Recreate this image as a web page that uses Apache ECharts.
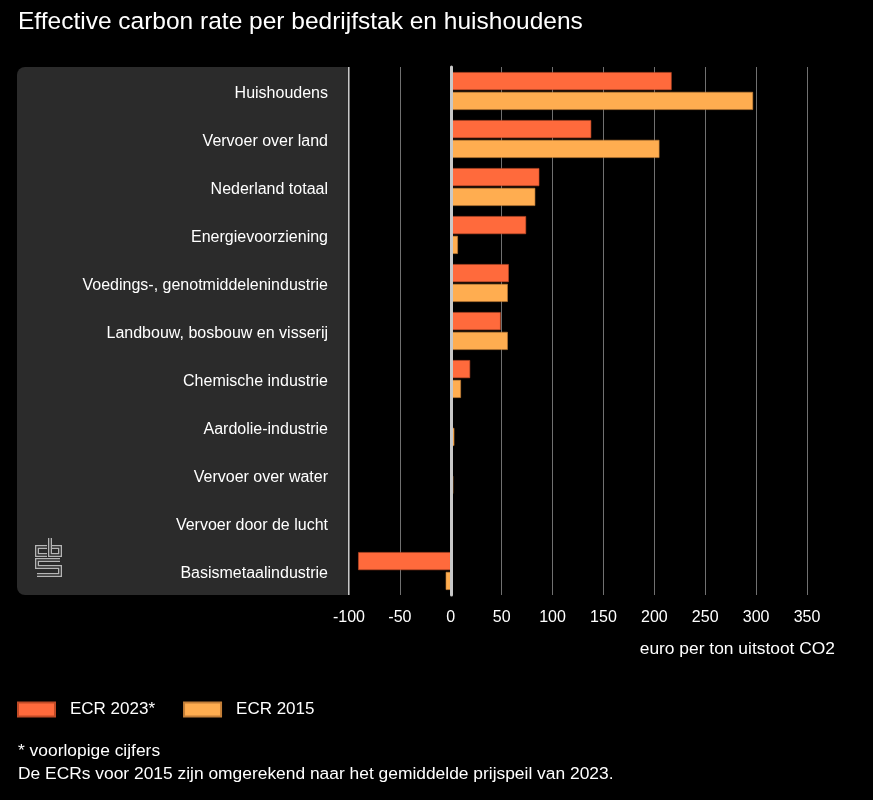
<!DOCTYPE html>
<html>
<head>
<meta charset="utf-8">
<script src="https://cdn.jsdelivr.net/npm/echarts@6/dist/echarts.min.js"></script>
<style>
html,body{margin:0;padding:0;background:#000;}
#c{width:873px;height:800px;}
</style>
</head>
<body>
<div id="c"></div>
<script>
var categories = [
  "Huishoudens",
  "Vervoer over land",
  "Nederland totaal",
  "Energievoorziening",
  "Voedings-, genotmiddelenindustrie",
  "Landbouw, bosbouw en visserij",
  "Chemische industrie",
  "Aardolie-industrie",
  "Vervoer over water",
  "Vervoer door de lucht",
  "Basismetaalindustrie"
];
var ecr2023 = [217, 138, 87, 74, 57, 49, 19, 2, 2, 0, -91];
var ecr2015 = [297, 205, 83, 7, 56, 56, 10, 3.5, 2.5, 0, -5];
var seriesNames = ["ECR 2023*", "ECR 2015"];
var axisTitle = "euro per ton uitstoot CO2";
var chartTitle = "Effective carbon rate per bedrijfstak en huishoudens";
var footnotes = ["* voorlopige cijfers", "De ECRs voor 2015 zijn omgerekend naar het gemiddelde prijspeil van 2023."];

var FONT = "'Liberation Sans', Arial, sans-serif";
var chart = echarts.init(document.getElementById('c'));

var logoStroke = function(points){
  return [
    {type:'polyline', shape:{points:points}, style:{stroke:'#b5b5b5', lineWidth:4, fill:null, lineJoin:'miter'}, z:-5},
    {type:'polyline', shape:{points:points}, style:{stroke:'#2b2b2b', lineWidth:1.4, fill:null, lineJoin:'miter'}, z:-4}
  ];
};

var graphics = [
  {type:'rect', shape:{x:17, y:67, width:331, height:528, r:[8,0,0,8]}, style:{fill:'#2b2b2b'}, z:-10},
  {type:'line', shape:{x1:348.5, y1:67, x2:348.5, y2:595}, style:{stroke:'#c8c8c8', lineWidth:1}, z:-3},
  {type:'text', left:18, top:10, style:{text:chartTitle, fill:'#fff', font:'24.5px ' + FONT}},
  {type:'text', right:38, top:641, style:{text:axisTitle, fill:'#fff', font:'17.4px ' + FONT, textAlign:'right'}},
  {type:'text', left:18, top:743, style:{text:footnotes[0], fill:'#fff', font:'17.4px ' + FONT}},
  {type:'text', left:18, top:766, style:{text:footnotes[1], fill:'#fff', font:'17.4px ' + FONT}}
];
graphics = graphics
  .concat(logoStroke([[47,547],[37,547],[37,555],[47,555]]))
  .concat(logoStroke([[50,538],[50,555],[60,555],[60,547],[52,547]]))
  .concat(logoStroke([[60,560],[37,560],[37,567],[60,567],[60,575],[37,575]]));

chart.setOption({
  backgroundColor: '#000',
  animation: false,
  textStyle: {fontFamily: FONT},
  graphic: graphics,
  legend: {
    left: 17, top: 701, padding: 0,
    itemWidth: 37, itemHeight: 14, itemGap: 28,
    icon: 'rect',
    textStyle: {color:'#fff', fontSize:17, fontFamily:FONT, padding:[0,0,0,10]},
    data: seriesNames
  },
  grid: {left: 349, right: 66, top: 67, bottom: 205, containLabel: false},
  xAxis: {
    type: 'value', min: -100, max: 350, interval: 50,
    axisLine: {show:false}, axisTick: {show:false},
    axisLabel: {color:'#fff', fontSize:16, fontFamily:FONT, margin:15},
    splitLine: {lineStyle:{color:'#707070', width:1}}
  },
  yAxis: {
    type: 'category', data: categories, inverse: true, z: 5,
    axisTick: {show:false},
    axisLine: {onZero: true, lineStyle:{color:'#c8c8c8', width:3}},
    axisLabel: {color:'#fff', fontSize:16, fontFamily:FONT, margin:21, verticalAlign:'top', lineHeight:6}
  },
  series: [
    {name: seriesNames[0], type:'bar', data: ecr2023, barWidth: 18, barGap:'10%',
     itemStyle:{color:'#ff6a3c', borderColor:'#c04a26', borderWidth:0.6}},
    {name: seriesNames[1], type:'bar', data: ecr2015, barWidth: 18, barGap:'10%',
     itemStyle:{color:'#ffad50', borderColor:'#c47f38', borderWidth:0.6}}
  ]
});
</script>
</body>
</html>
